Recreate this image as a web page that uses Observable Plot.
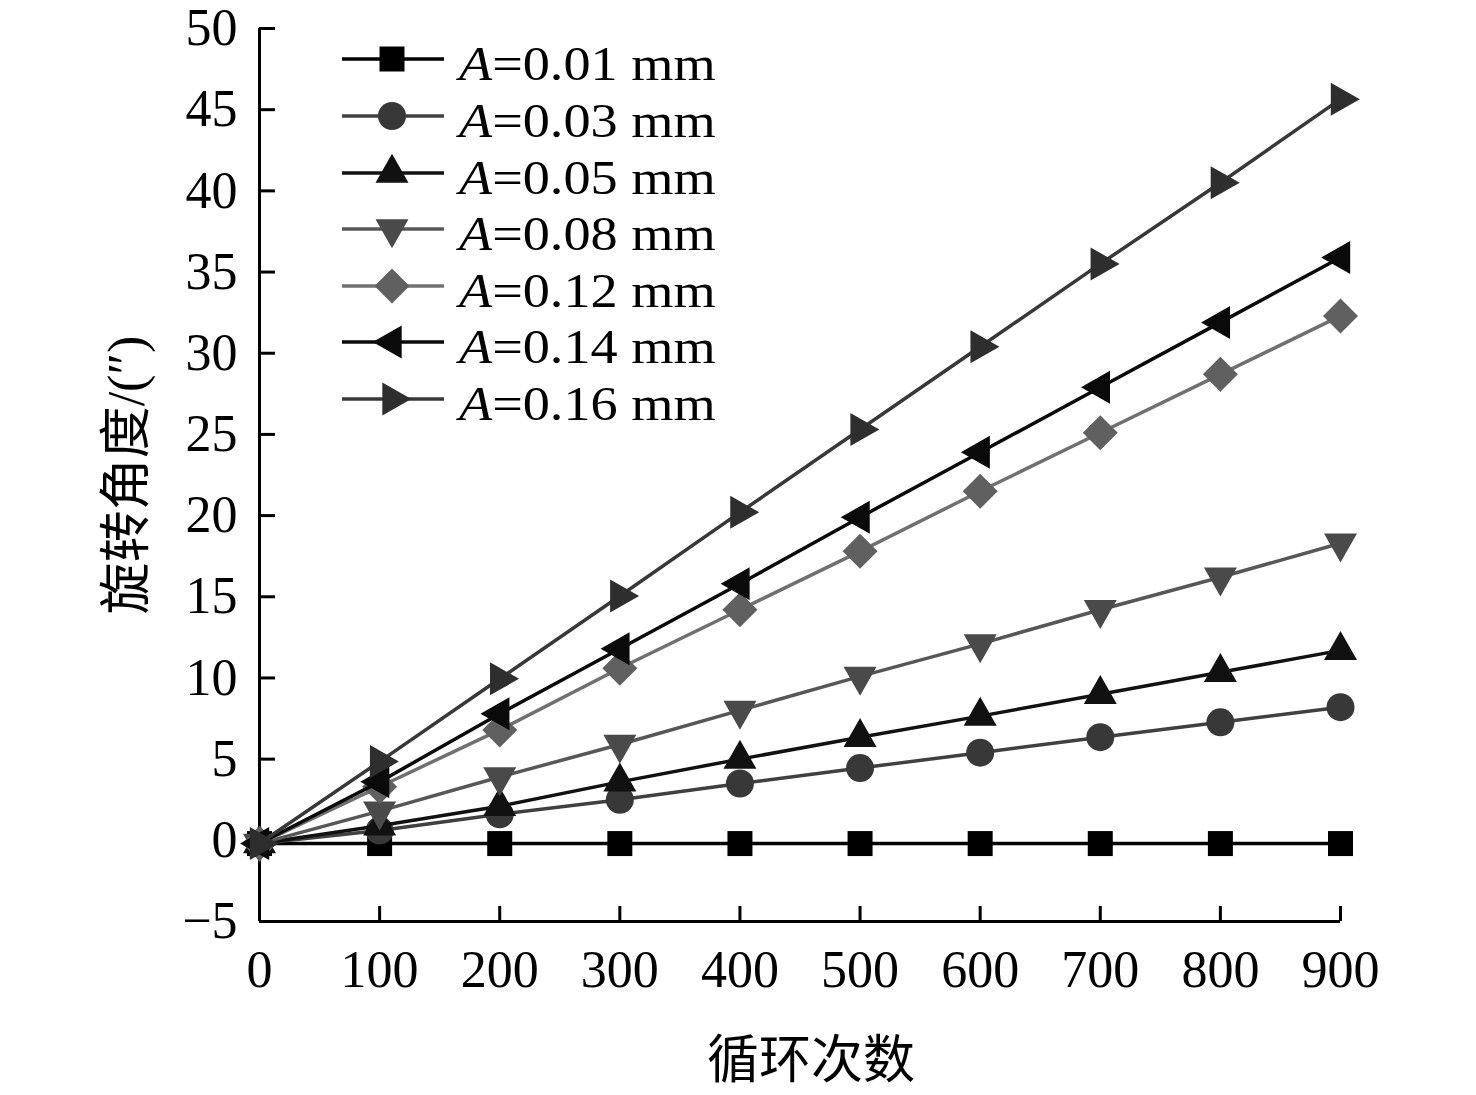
<!DOCTYPE html>
<html><head><meta charset="utf-8">
<script src="https://cdn.jsdelivr.net/npm/d3@7"></script>
<script src="https://cdn.jsdelivr.net/npm/@observablehq/plot@0.6"></script>
<style>
html,body{margin:0;padding:0;background:#fff;}
#wrap{position:relative;width:1476px;height:1095px;}
#wrap > svg{display:block;}
.row{position:absolute;left:342px;width:420px;height:56px;}
.row svg{position:absolute;left:0;top:0;display:block;overflow:visible;}
.lab{position:absolute;left:117px;top:0;font-family:'Liberation Serif',serif;font-size:48px;line-height:56px;white-space:nowrap;transform:scaleX(1.13);transform-origin:0 50%;color:#000;}
</style></head><body><div id="wrap"></div>
<script>
// ---- data ----
const cycles = [0, 100, 200, 300, 400, 500, 600, 700, 800, 900];
const amplitudes = ["0.01", "0.03", "0.05", "0.08", "0.12", "0.14", "0.16"];
const angleA001 = [-0.2, -0.2, -0.2, -0.2, -0.2, -0.2, -0.2, -0.2, -0.2, -0.2];
const angleA003 = [-0.2, 0.6, 1.6, 2.5, 3.5, 4.45, 5.4, 6.35, 7.27, 8.2];
const angleA005 = [-0.2, 0.9, 2.1, 3.6, 5.0, 6.35, 7.65, 9.0, 10.35, 11.7];
const angleA008 = [-0.2, 1.8, 3.9, 5.9, 8.0, 10.1, 12.1, 14.2, 16.2, 18.3];
const angleA012 = [-0.2, 3.3, 6.8, 10.6, 14.2, 17.8, 21.5, 25.1, 28.7, 32.3];
const angleA014 = [-0.2, 3.6, 7.8, 11.8, 15.8, 19.9, 23.9, 27.9, 31.9, 35.9];
const angleA016 = [-0.2, 4.85, 9.95, 15.05, 20.2, 25.3, 30.4, 35.5, 40.5, 45.65];
const yTicks = [-5, 0, 5, 10, 15, 20, 25, 30, 35, 40, 45, 50];
const xTicks = [0, 100, 200, 300, 400, 500, 600, 700, 800, 900];
const xLabel = "循环次数";
const yLabel = "旋转角度/(″)";

const series = [angleA001, angleA003, angleA005, angleA008, angleA012, angleA014, angleA016];

// ---- styles ----
const lineColors = ["#000000", "#404040", "#111111", "#575757", "#707070", "#0a0a0a", "#383838"];
const markerColors = ["#000000", "#383838", "#111111", "#4a4a4a", "#606060", "#0a0a0a", "#2e2e2e"];

const poly = (pts) => ({draw(c) { c.moveTo(pts[0][0], pts[0][1]); for (let i = 1; i < pts.length; i++) c.lineTo(pts[i][0], pts[i][1]); c.closePath(); }});
const symSquare = poly([[-12.5,-12.5],[12.5,-12.5],[12.5,12.5],[-12.5,12.5]]);
const symCircle = {draw(c) { c.moveTo(14, 0); c.arc(0, 0, 14, 0, 2 * Math.PI); c.closePath(); }};
const symUp = poly([[0,-19.3],[16.5,9.7],[-16.5,9.7]]);
const symDown = poly([[0,19.3],[16.5,-9.7],[-16.5,-9.7]]);
const symDiamond = poly([[0,-17.5],[17.5,0],[0,17.5],[-17.5,0]]);
const symLeft = poly([[-19.3,0],[9.7,-16.5],[9.7,16.5]]);
const symRight = poly([[19.3,0],[-9.7,-16.5],[-9.7,16.5]]);
const symbols = [symSquare, symCircle, symUp, symDown, symDiamond, symLeft, symRight];

const fontFam = "'Liberation Serif','Noto Sans CJK SC',serif";
const fmt = (d) => d < 0 ? "\u2212" + Math.abs(d) : String(d);

const marks = [
  Plot.axisY({ticks: yTicks, tickSize: 16, dx: 16, tickFormat: () => "", strokeWidth: 3, label: null}),
  Plot.axisY({ticks: yTicks, tickSize: 0, tickPadding: 22, tickFormat: fmt, label: null, fontSize: 52}),
  Plot.axisX({ticks: xTicks, tickSize: 15, dy: -15, tickFormat: () => "", strokeWidth: 3, label: null}),
  Plot.axisX({ticks: xTicks, tickSize: 0, tickPadding: 29, tickFormat: fmt, label: null, fontSize: 52}),
  Plot.ruleX([0], {stroke: "#000", strokeWidth: 3}),
  Plot.ruleY([-5], {stroke: "#000", strokeWidth: 3}),
  Plot.text([xLabel], {frameAnchor: "bottom", dy: 140, dx: 11, fontSize: 52, lineAnchor: "middle", textAnchor: "middle", fill: "#000"}),
  Plot.text([yLabel], {frameAnchor: "left", dx: -132, rotate: -90, fontSize: 52, lineAnchor: "middle", textAnchor: "middle", fill: "#000"})
];

series.forEach((vals, k) => {
  const rows = cycles.map((c, j) => ({cycle: c, angle: vals[j]}));
  marks.push(Plot.line(rows, {x: "cycle", y: "angle", stroke: lineColors[k], strokeWidth: 3.5}));
  marks.push(Plot.dot(rows, {x: "cycle", y: "angle", symbol: symbols[k], r: 10, fill: markerColors[k], stroke: "none"}));
});

const chart = Plot.plot({
  width: 1476,
  height: 1095,
  marginLeft: 259,
  marginRight: 136,
  marginTop: 28,
  marginBottom: 174,
  x: {domain: [0, 900]},
  y: {domain: [-5, 50]},
  style: {fontFamily: fontFam, fontSize: "52px", color: "#000", background: "#fff", overflow: "visible"},
  marks
});
const wrap = document.getElementById("wrap");
wrap.appendChild(chart);

// ---- legend ----
amplitudes.forEach((a, i) => {
  const lineY = 59.3 + 56.6 * i;
  const row = document.createElement("div");
  row.className = "row";
  row.style.top = (lineY - 23) + "px";
  const p = d3.path();
  symbols[i].draw(p);
  row.innerHTML = `<svg width="104" height="56"><line x1="0" x2="102" y1="23" y2="23" stroke="${lineColors[i]}" stroke-width="3.5"/><path d="${p.toString()}" transform="translate(50,23)" fill="${markerColors[i]}"/></svg><span class="lab"><i>A</i>=${a} mm</span>`;
  wrap.appendChild(row);
});
</script></body></html>
